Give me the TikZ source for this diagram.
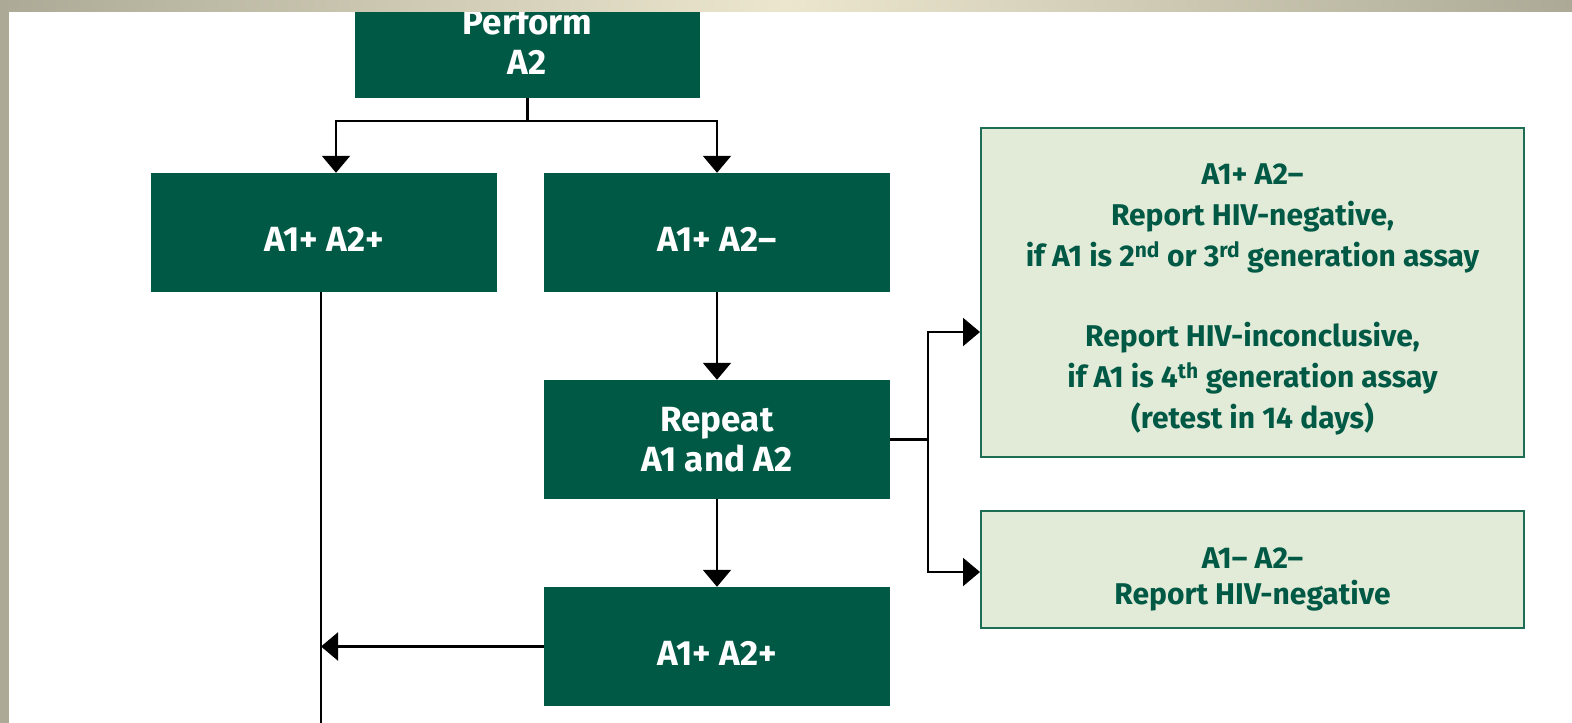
\documentclass[tikz,border=0pt]{standalone}
\usepackage{fontspec}
\setmainfont{Fira Sans}
\usetikzlibrary{arrows.meta,calc}
\definecolor{hivgreen}{RGB}{0,89,68}
\definecolor{hivpale}{RGB}{226,234,216}
\definecolor{hivedge}{RGB}{30,110,85}
\definecolor{bandgray}{RGB}{172,170,150}
\definecolor{bandcream}{RGB}{236,230,206}
\begin{document}
\begin{tikzpicture}[x=1pt,y=-1pt,
  darkbox/.style={fill=hivgreen,text=white,minimum width=346pt,minimum height=119pt,
    align=center,inner sep=0pt,font=\fontsize{35}{40}\selectfont\bfseries,
    execute at begin node=\rule{0pt}{37pt}},
  palebox/.style={fill=hivpale,draw=hivedge,line width=2pt,minimum width=543pt,
    align=center,inner sep=0pt,text=hivgreen,font=\fontsize{30}{41}\selectfont\bfseries},
  link/.style={draw=black,line width=2.2pt},
  arr/.style={link,-{Triangle[width=28pt,length=17pt]}}]
\useasboundingbox (0,0) rectangle (1572,723);
\fill[white] (0,0) rectangle (1572,723);
% boxes
\node[darkbox,minimum width=345pt,minimum height=114pt] (perform) at (527.5,41) {Perform\\A2};
\node[darkbox] (a1p) at (324,232.5) {A1+ A2+};
\node[darkbox] (a1n) at (717,232.5) {A1+ A2--};
\node[darkbox] (repeat) at (717,439.5) {Repeat\\A1 and A2};
\node[darkbox] (a1pb) at (717,646.5) {A1+ A2+};
\node[palebox,minimum height=329pt] (res1) at (1252.5,292.5) {\rule{0pt}{35pt}A1+ A2--\\
  Report HIV-negative,\\
  if A1 is 2\textsuperscript{nd} or 3\textsuperscript{rd} generation assay\\[39pt]
  Report HIV-inconclusive,\\
  if A1 is 4\textsuperscript{th} generation assay\\
  (retest in 14 days)};
\node[palebox,minimum height=117pt] (res2) at (1252.5,569.5) {\rule{0pt}{40pt}A1-- A2--\\[-5pt]Report HIV-negative};
\coordinate (lineend) at (321,723);
\coordinate (fork) at ($(repeat.east)+(38,0)$);
% connectors
\draw[link] (perform.south) -- ++(0,23) coordinate (split);
\draw[arr] (split) -| ([xshift=12pt]a1p.north);
\draw[arr] (split) -| (a1n.north);
\draw[arr] (a1n) -- (repeat);
\draw[arr] (repeat) -- (a1pb);
\draw[link] (a1p.south -| lineend) -- (lineend);
\draw[arr] (a1pb.west) -- (a1pb.west -| lineend);
\draw[link] (repeat.east) -- (fork);
\draw[arr] (fork) |- ([yshift=-39.5pt]res1.west);
\draw[arr] (fork) |- ([yshift=-2.5pt]res2.west);
% frame
\shade[left color=bandgray,right color=bandgray,middle color=bandcream] (0,0) rectangle (1572,11);
\fill[bandgray] (0,0) rectangle (9,723);
\end{tikzpicture}
\end{document}
